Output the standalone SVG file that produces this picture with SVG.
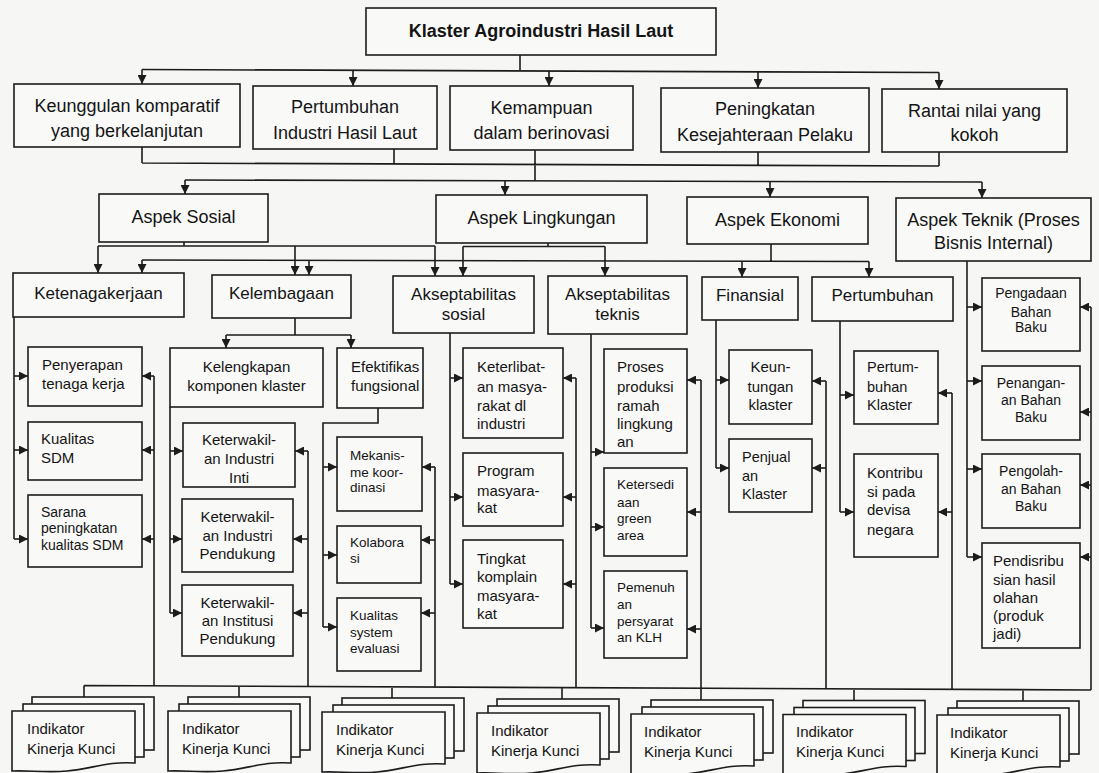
<svg xmlns="http://www.w3.org/2000/svg" xmlns:xlink="http://www.w3.org/1999/xlink" width="1099" height="773" viewBox="0 0 1099 773">
<style>
.box{fill:#f9f9f8;stroke:#1c1c1c;stroke-width:1.6}
.ln{fill:none;stroke:#1c1c1c;stroke-width:1.6}
.ar{fill:none;stroke:#1c1c1c;stroke-width:1.6;marker-end:url(#ah)}
text{font-family:"Liberation Sans",Arial,Helvetica,sans-serif;fill:#141414}
.c{text-anchor:middle}
.b18{font-size:18px;font-weight:bold}
.t18{font-size:18px}
.t17{font-size:17px}
.t15{font-size:15px}
.t145{font-size:14.5px}
.t14{font-size:14px}
.t135{font-size:13.5px}
</style>
<defs>
<marker id="ah" viewBox="0 0 10 10" refX="10" refY="5" markerWidth="9" markerHeight="9" markerUnits="userSpaceOnUse" orient="auto"><path d="M0,0 L10,5 L0,10 z" fill="#1c1c1c"/></marker>
<g id="pages">
<rect x="20" y="-14" width="122" height="53" class="box"/>
<rect x="11" y="-7" width="121" height="53" class="box"/>
<path d="M0,0 H123 V52 C95,50 80,58 55,60 C35,62 15,59 0,60 Z" class="box"/>
</g>
</defs>
<rect x="0" y="0" width="1099" height="773" fill="#f6f6f4"/>

<g id="connectors">
<path class="ln" d="M520,55 V70 M142,69.5 L939,72.5"/>
<path class="ar" d="M142,69.5 V84"/>
<path class="ar" d="M353,70.5 V86"/>
<path class="ar" d="M549,71 V86"/>
<path class="ar" d="M758,71.5 V88"/>
<path class="ar" d="M939,72.5 V89"/>
<path class="ln" d="M142,147 V163 M394,149 V164 M535,150 V181 M758,152 V165.5 M939,152 V166 M142,163 L939,166 M185,180 L982,182"/>
<path class="ar" d="M185,180 V194"/>
<path class="ar" d="M505,181 V195"/>
<path class="ar" d="M770,181.5 V197"/>
<path class="ar" d="M982,182 V198"/>
<path class="ln" d="M184,242 V246 M98,246 H435 M548,243 V246.5 M463,246.5 H605 M771,244 V261 M142,260 L869,261.5"/>
<path class="ar" d="M98,246 V273"/>
<path class="ar" d="M295,246 V275"/>
<path class="ar" d="M435,246 V276"/>
<path class="ar" d="M463,246.5 V276"/>
<path class="ar" d="M605,246.5 V276"/>
<path class="ar" d="M142,260 V273"/>
<path class="ar" d="M309,260 V275"/>
<path class="ar" d="M742,261 V277"/>
<path class="ar" d="M869,261.5 V277"/>
<path class="ln" d="M967,261 V557"/>
<path class="ar" d="M967,307 H982"/>
<path class="ar" d="M967,381 H982"/>
<path class="ar" d="M967,469 H982"/>
<path class="ar" d="M967,557 H982"/>
<path class="ln" d="M14,317 V539 M154,376 V686"/>
<path class="ar" d="M14,376 H28"/>
<path class="ar" d="M14,450 H28"/>
<path class="ar" d="M14,539 H28"/>
<path class="ar" d="M154,376 H142"/>
<path class="ar" d="M154,450 H142"/>
<path class="ar" d="M154,539 H142"/>
<path class="ln" d="M295,318 V335 M226,335 H351"/>
<path class="ar" d="M226,335 V348"/>
<path class="ar" d="M351,335 V348"/>
<path class="ln" d="M170,407 V613 M308,451 V686.6"/>
<path class="ar" d="M170,451 H183"/>
<path class="ar" d="M170,539 H182"/>
<path class="ar" d="M170,613 H182"/>
<path class="ar" d="M308,451 H295"/>
<path class="ar" d="M308,539 H293"/>
<path class="ar" d="M308,613 H293"/>
<path class="ln" d="M378,408 V423 H323 V627 M435,467 V687.1"/>
<path class="ar" d="M323,467 H337"/>
<path class="ar" d="M323,555 H337"/>
<path class="ar" d="M323,627 H337"/>
<path class="ar" d="M435,467 H422"/>
<path class="ar" d="M435,540 H421"/>
<path class="ar" d="M435,613 H421"/>
<path class="ln" d="M450,333 V584 M576,378 V687.6"/>
<path class="ar" d="M450,378 H463"/>
<path class="ar" d="M450,497 H463"/>
<path class="ar" d="M450,584 H463"/>
<path class="ar" d="M576,378 H563"/>
<path class="ar" d="M576,497 H563"/>
<path class="ar" d="M576,584 H563"/>
<path class="ln" d="M591,334 V628 M701,380 V700"/>
<path class="ar" d="M591,452 H604"/>
<path class="ar" d="M591,527 H604"/>
<path class="ar" d="M591,628 H604"/>
<path class="ar" d="M701,380 H687"/>
<path class="ar" d="M701,512 H687"/>
<path class="ar" d="M701,629 H687"/>
<path class="ln" d="M716,320 V468 M826,381 V688.6"/>
<path class="ar" d="M716,380 H729"/>
<path class="ar" d="M716,468 H729"/>
<path class="ar" d="M826,381 H812"/>
<path class="ar" d="M826,468 H812"/>
<path class="ln" d="M840,321 V512 M952,393 V689.1"/>
<path class="ar" d="M840,395 H854"/>
<path class="ar" d="M840,512 H854"/>
<path class="ar" d="M952,393 H938"/>
<path class="ar" d="M952,512 H938"/>
<path class="ln" d="M1091,307 V690"/>
<path class="ar" d="M1091,307 H1080"/>
<path class="ar" d="M1091,412 H1080"/>
<path class="ar" d="M1091,485 H1080"/>
<path class="ar" d="M1091,557 H1080"/>
<path class="ln" d="M84,685.5 L1091,690 M84,685.5 V697 M239,686.2 V697 M392,686.9 V698 M562,687.6 V699 M854,689 V700.5 M1023,689.7 V701"/>
</g>

<g id="n-root"><rect class="box" x="366" y="8" width="350" height="47"/><text class="b18 c" x="541" y="37">Klaster Agroindustri Hasil Laut</text></g>

<g id="n-keunggulan"><rect class="box" x="14" y="84" width="226" height="63"/><text class="t18 c" x="127" y="111.5">Keunggulan komparatif</text><text class="t18 c" x="127" y="137">yang berkelanjutan</text></g>
<g id="n-pertumbuhan-industri"><rect class="box" x="253" y="86" width="184" height="63"/><text class="t18 c" x="345" y="113">Pertumbuhan</text><text class="t18 c" x="345" y="138.5">Industri Hasil Laut</text></g>
<g id="n-kemampuan"><rect class="box" x="450" y="86" width="183" height="64"/><text class="t18 c" x="541.5" y="113.5">Kemampuan</text><text class="t18 c" x="541.5" y="139">dalam berinovasi</text></g>
<g id="n-peningkatan"><rect class="box" x="661" y="88" width="208" height="64"/><text class="t18 c" x="765" y="115">Peningkatan</text><text class="t18 c" x="765" y="141">Kesejahteraan Pelaku</text></g>
<g id="n-rantai"><rect class="box" x="882" y="89" width="185" height="63"/><text class="t18 c" x="974.5" y="117">Rantai nilai yang</text><text class="t18 c" x="974.5" y="141">kokoh</text></g>

<g id="n-aspek-sosial"><rect class="box" x="99" y="194" width="169" height="48"/><text class="t18 c" x="183.5" y="223">Aspek Sosial</text></g>
<g id="n-aspek-lingkungan"><rect class="box" x="436" y="195" width="211" height="48"/><text class="t18 c" x="541.5" y="224">Aspek Lingkungan</text></g>
<g id="n-aspek-ekonomi"><rect class="box" x="687" y="197" width="181" height="47"/><text class="t18 c" x="777.5" y="225.5">Aspek Ekonomi</text></g>
<g id="n-aspek-teknik"><rect class="box" x="896" y="198" width="195" height="63"/><text class="t18 c" x="993.5" y="225.5">Aspek Teknik (Proses</text><text class="t18 c" x="993.5" y="248.5">Bisnis Internal)</text></g>

<g id="n-ketenagakerjaan"><rect class="box" x="13" y="273" width="171" height="44"/><text class="t17 c" x="98.5" y="298.5">Ketenagakerjaan</text></g>
<g id="n-kelembagaan"><rect class="box" x="212" y="275" width="139" height="43"/><text class="t17 c" x="281.5" y="299">Kelembagaan</text></g>
<g id="n-aks-sosial"><rect class="box" x="393" y="276" width="141" height="57"/><text class="t17 c" x="463.5" y="300">Akseptabilitas</text><text class="t17 c" x="463.5" y="320">sosial</text></g>
<g id="n-aks-teknis"><rect class="box" x="548" y="276" width="139" height="58"/><text class="t17 c" x="617.5" y="300">Akseptabilitas</text><text class="t17 c" x="617.5" y="320">teknis</text></g>
<g id="n-finansial"><rect class="box" x="702" y="277" width="96" height="43"/><text class="t17 c" x="750" y="301">Finansial</text></g>
<g id="n-pertumbuhan"><rect class="box" x="812" y="277" width="141" height="44"/><text class="t17 c" x="882.5" y="301">Pertumbuhan</text></g>

<g id="n-penyerapan"><rect class="box" x="28" y="347" width="114" height="59"/><text class="t15" x="42" y="370">Penyerapan</text><text class="t15" x="42" y="389">tenaga kerja</text></g>
<g id="n-kualitas-sdm"><rect class="box" x="28" y="422" width="114" height="58"/><text class="t15" x="41" y="444">Kualitas</text><text class="t15" x="41" y="463">SDM</text></g>
<g id="n-sarana"><rect class="box" x="28" y="495" width="114" height="72"/><text class="t14" x="41" y="516.5">Sarana</text><text class="t14" x="41" y="533">peningkatan</text><text class="t14" x="41" y="550">kualitas SDM</text></g>

<g id="n-kelengkapan"><rect class="box" x="170" y="348" width="153" height="59"/><text class="t15 c" x="246.5" y="371.5">Kelengkapan</text><text class="t15 c" x="246.5" y="390.5">komponen klaster</text></g>
<g id="n-efektifikas"><rect class="box" x="337" y="348" width="86" height="60"/><text class="t15" x="351" y="371.5">Efektifikas</text><text class="t15" x="351" y="390.5">fungsional</text></g>
<g id="n-ket-inti"><rect class="box" x="183" y="423" width="112" height="64"/><text class="t15 c" x="239" y="445">Keterwakil-</text><text class="t15 c" x="239" y="464">an Industri</text><text class="t15 c" x="239" y="483">Inti</text></g>
<g id="n-ket-pendukung"><rect class="box" x="182" y="499" width="111" height="73"/><text class="t15 c" x="237.5" y="522">Keterwakil-</text><text class="t15 c" x="237.5" y="540.5">an Industri</text><text class="t15 c" x="237.5" y="558.5">Pendukung</text></g>
<g id="n-ket-institusi"><rect class="box" x="182" y="585" width="111" height="71"/><text class="t15 c" x="237.5" y="608">Keterwakil-</text><text class="t15 c" x="237.5" y="626">an Institusi</text><text class="t15 c" x="237.5" y="644">Pendukung</text></g>
<g id="n-mekanisme"><rect class="box" x="337" y="437" width="85" height="74"/><text class="t135" x="350" y="460">Mekanis-</text><text class="t135" x="350" y="476.5">me koor-</text><text class="t135" x="350" y="491.5">dinasi</text></g>
<g id="n-kolaborasi"><rect class="box" x="337" y="526" width="84" height="57"/><text class="t135" x="350" y="546.5">Kolabora</text><text class="t135" x="350" y="563">si</text></g>
<g id="n-kualitas-system"><rect class="box" x="337" y="598" width="84" height="73"/><text class="t135" x="350" y="620">Kualitas</text><text class="t135" x="350" y="636.5">system</text><text class="t135" x="350" y="653">evaluasi</text></g>

<g id="n-keterlibatan"><rect class="box" x="463" y="348" width="100" height="90"/><text class="t15" x="477" y="372">Keterlibat-</text><text class="t15" x="477" y="392">an masya-</text><text class="t15" x="477" y="410.5">rakat dl</text><text class="t15" x="477" y="428.5">industri</text></g>
<g id="n-program"><rect class="box" x="463" y="453" width="100" height="73"/><text class="t15" x="477" y="476">Program</text><text class="t15" x="477" y="495.5">masyara-</text><text class="t15" x="477" y="513">kat</text></g>
<g id="n-tingkat"><rect class="box" x="463" y="540" width="100" height="88"/><text class="t15" x="477" y="563.5">Tingkat</text><text class="t15" x="477" y="582">komplain</text><text class="t15" x="477" y="600.5">masyara-</text><text class="t15" x="477" y="618.5">kat</text></g>

<g id="n-proses"><rect class="box" x="604" y="349" width="83" height="104"/><text class="t15" x="617" y="372">Proses</text><text class="t15" x="617" y="392">produksi</text><text class="t15" x="617" y="410.5">ramah</text><text class="t15" x="617" y="428.5">lingkung</text><text class="t15" x="617" y="447">an</text></g>
<g id="n-ketersediaan"><rect class="box" x="604" y="468" width="83" height="88"/><text class="t135" x="617" y="489">Ketersedi</text><text class="t135" x="617" y="506.5">aan</text><text class="t135" x="617" y="523">green</text><text class="t135" x="617" y="540">area</text></g>
<g id="n-pemenuhan"><rect class="box" x="604" y="571" width="83" height="87"/><text class="t135" x="617" y="591.5">Pemenuh</text><text class="t135" x="617" y="609">an</text><text class="t135" x="617" y="626">persyarat</text><text class="t135" x="617" y="642">an KLH</text></g>

<g id="n-keuntungan"><rect class="box" x="729" y="350" width="83" height="74"/><text class="t15 c" x="770.5" y="372">Keun-</text><text class="t15 c" x="770.5" y="392">tungan</text><text class="t15 c" x="770.5" y="410">klaster</text></g>
<g id="n-penjualan"><rect class="box" x="729" y="439" width="83" height="73"/><text class="t145" x="742" y="462">Penjual</text><text class="t145" x="742" y="481">an</text><text class="t145" x="742" y="499">Klaster</text></g>
<g id="n-pertum-klaster"><rect class="box" x="854" y="351" width="84" height="73"/><text class="t145" x="867" y="372">Pertum-</text><text class="t145" x="867" y="392">buhan</text><text class="t145" x="867" y="410">Klaster</text></g>
<g id="n-kontribusi"><rect class="box" x="854" y="454" width="84" height="103"/><text class="t15" x="867" y="478">Kontribu</text><text class="t15" x="867" y="497">si pada</text><text class="t15" x="867" y="515">devisa</text><text class="t15" x="867" y="534.5">negara</text></g>

<g id="n-pengadaan"><rect class="box" x="982" y="278" width="98" height="73"/><text class="t14 c" x="1031" y="298">Pengadaan</text><text class="t14 c" x="1031" y="316.5">Bahan</text><text class="t14 c" x="1031" y="332">Baku</text></g>
<g id="n-penanganan"><rect class="box" x="982" y="366" width="98" height="74"/><text class="t14 c" x="1031" y="388">Penangan-</text><text class="t14 c" x="1031" y="405">an Bahan</text><text class="t14 c" x="1031" y="421.5">Baku</text></g>
<g id="n-pengolahan"><rect class="box" x="982" y="454" width="98" height="74"/><text class="t14 c" x="1031" y="475.5">Pengolah-</text><text class="t14 c" x="1031" y="494">an Bahan</text><text class="t14 c" x="1031" y="510.5">Baku</text></g>
<g id="n-pendistribusian"><rect class="box" x="982" y="543" width="98" height="105"/><text class="t15" x="993" y="566">Pendisribu</text><text class="t15" x="993" y="585">sian hasil</text><text class="t15" x="993" y="603">olahan</text><text class="t15" x="993" y="621">(produk</text><text class="t15" x="993" y="639">jadi)</text></g>

<g id="n-kpi-1" transform="translate(12,711)"><use xlink:href="#pages"/><text class="t15" x="15" y="22.5">Indikator</text><text class="t15" x="15" y="42.5">Kinerja Kunci</text></g>
<g id="n-kpi-2" transform="translate(168,711)"><use xlink:href="#pages"/><text class="t15" x="14" y="22.5">Indikator</text><text class="t15" x="14" y="42.5">Kinerja Kunci</text></g>
<g id="n-kpi-3" transform="translate(322,712)"><use xlink:href="#pages"/><text class="t15" x="14" y="22.5">Indikator</text><text class="t15" x="14" y="42.5">Kinerja Kunci</text></g>
<g id="n-kpi-4" transform="translate(477,713)"><use xlink:href="#pages"/><text class="t15" x="14" y="22.5">Indikator</text><text class="t15" x="14" y="42.5">Kinerja Kunci</text></g>
<g id="n-kpi-5" transform="translate(631,714)"><use xlink:href="#pages"/><text class="t15" x="13" y="22.5">Indikator</text><text class="t15" x="13" y="42.5">Kinerja Kunci</text></g>
<g id="n-kpi-6" transform="translate(783,714.5)"><use xlink:href="#pages"/><text class="t15" x="13" y="22.5">Indikator</text><text class="t15" x="13" y="42.5">Kinerja Kunci</text></g>
<g id="n-kpi-7" transform="translate(937,715)"><use xlink:href="#pages"/><text class="t15" x="13" y="22.5">Indikator</text><text class="t15" x="13" y="42.5">Kinerja Kunci</text></g>
</svg>
